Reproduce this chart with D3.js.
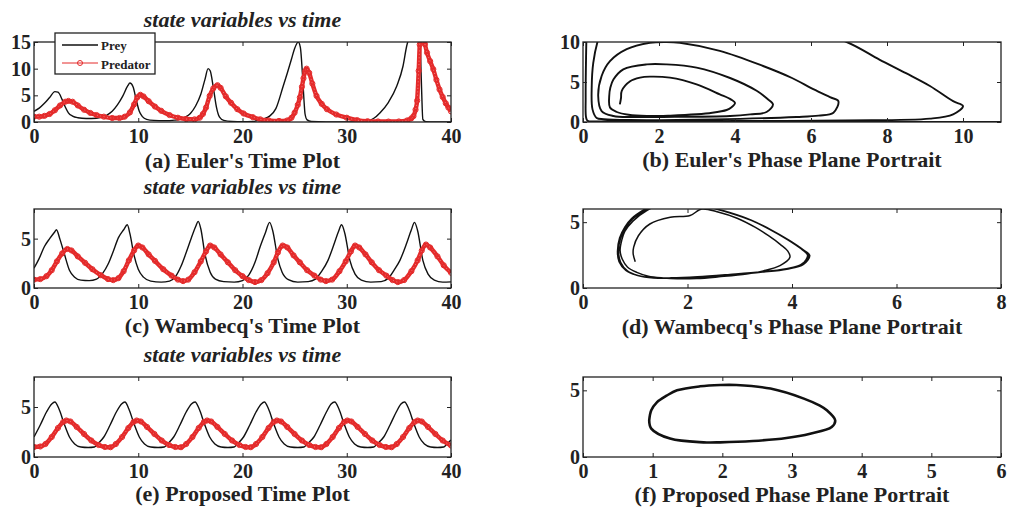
<!DOCTYPE html>
<html>
<head>
<meta charset="utf-8">
<script src="https://cdn.jsdelivr.net/npm/d3@7/dist/d3.min.js"></script>
<style>
	body { margin: 0; background: #fff; }
	svg { display: block; font-family: "Liberation Serif", "Times New Roman", serif; }
	.tick text { font-family: "Liberation Serif", "Times New Roman", serif; font-weight: bold; font-size: 20px; fill: #222; }
	.tick line { stroke: #222; }
</style>
</head>
<body>
<div id="chart"></div>
<script>
// ---------- DATA ----------
// time plots: [t, value]
const eulerPrey = [[0,2.0],[0.5,2.6],[1,3.5],[1.5,4.6],[2,5.7],[2.3,5.6],[2.7,4.2],[3,2.8],[3.3,1.7],[3.7,1.1],[4.2,0.8],[5,0.65],[6,0.7],[6.5,0.9],[7,1.3],[7.5,2.0],[8,3.2],[8.5,4.8],[9,6.8],[9.2,7.3],[9.5,6.6],[9.8,4.2],[10.1,2.0],[10.4,1.0],[10.8,0.5],[11.5,0.3],[12.5,0.25],[13.5,0.35],[14,0.5],[14.5,0.9],[15,1.6],[15.5,3.0],[16,5.2],[16.4,8.0],[16.7,10.0],[16.9,9.6],[17.2,6.5],[17.5,2.8],[17.8,0.9],[18.2,0.3],[19,0.1],[20,0.05],[21,0.1],[21.5,0.3],[22,0.55],[22.6,1.1],[23.2,2.5],[23.9,6.7],[24.3,9.2],[24.7,11.8],[25,13.8],[25.35,15.0],[25.55,14.0],[25.75,9.0],[25.9,4.0],[26,1.5],[26.2,0.4],[26.6,0.1],[28,0.02],[30,0.01],[31,0.05],[32,0.2],[32.6,0.7],[33.2,1.75],[34,3.7],[34.8,6.75],[35.4,10.5],[35.75,14.25],[36,16],[36.5,20],[37,17],[37.15,8],[37.3,0.5],[37.6,0.05],[38.5,0.0],[40,0.0]];
const eulerPredator = [[0,1.0],[0.5,1.0],[1,1.15],[1.5,1.5],[2,2.2],[2.5,3.1],[3,3.8],[3.3,3.95],[3.7,3.8],[4.2,3.1],[4.8,2.3],[5.4,1.7],[6,1.3],[6.7,1.0],[7.5,0.75],[8.2,0.75],[8.7,1.0],[9.2,1.8],[9.6,3.3],[9.9,4.6],[10.2,5.1],[10.5,4.8],[11,3.9],[11.6,2.9],[12.2,2.1],[13,1.3],[13.8,0.8],[14.6,0.55],[15.4,0.5],[15.9,0.8],[16.2,1.5],[16.5,2.7],[16.85,4.9],[17.2,6.3],[17.6,6.9],[17.9,6.4],[18.4,4.8],[18.9,3.6],[19.5,2.4],[20.1,1.6],[21,0.9],[21.7,0.5],[22.5,0.3],[23.5,0.2],[24.3,0.3],[24.7,0.8],[25,1.75],[25.3,3.2],[25.5,4.6],[25.7,6.6],[25.85,8.2],[26,9.5],[26.15,10.0],[26.4,9.2],[26.7,7.2],[27.1,4.9],[27.6,3.4],[28.1,2.4],[29,1.4],[30,0.8],[31,0.35],[32,0.15],[33,0.1],[34,0.08],[35,0.1],[35.8,0.3],[36.2,0.7],[36.4,1.1],[36.6,2.3],[36.75,4.0],[36.9,9.6],[37,14.5],[37.1,17],[37.3,16.5],[37.5,14.6],[37.7,13.0],[38,11.4],[38.3,9.9],[38.6,7.9],[38.9,6.1],[39.2,4.7],[39.5,3.5],[39.75,2.7],[40,2.0]];

const wambecqPrey = [[0,2.0],[0.5,3.0],[1,4.2],[1.5,5.0],[2,5.7],[2.15,5.9],[2.5,4.9],[2.9,3.5],[3.4,1.8],[3.9,1.1],[4.5,0.8],[5.3,0.75],[6,0.9],[6.6,1.5],[7.1,2.4],[7.6,3.7],[8.1,5.1],[8.6,5.9],[8.95,6.4],[9.2,5.5],[9.6,3.3],[10,1.9],[10.5,1.1],[11.2,0.7],[12.2,0.6],[13,0.7],[13.6,1.2],[14.1,2.2],[14.6,3.6],[15.1,5.1],[15.5,6.2],[15.75,6.75],[16,6.0],[16.4,3.4],[16.9,1.6],[17.4,0.9],[18.2,0.65],[19.2,0.6],[20,0.75],[20.6,1.3],[21.2,2.6],[21.7,4.2],[22.2,5.6],[22.6,6.65],[22.9,5.8],[23.4,2.9],[23.8,1.6],[24.4,0.85],[25.3,0.6],[26.3,0.65],[27,0.9],[27.6,1.7],[28.2,2.8],[28.7,4.2],[29.2,5.7],[29.5,6.4],[29.8,5.6],[30.3,2.8],[30.8,1.4],[31.4,0.8],[32.3,0.6],[33.3,0.65],[34,1.0],[34.6,1.9],[35.1,2.8],[35.7,4.4],[36.2,5.9],[36.5,6.65],[36.8,5.8],[37.3,2.8],[37.8,1.4],[38.4,0.8],[39.2,0.6],[40,0.62]];
const wambecqPredator = [[0,0.85],[0.6,0.9],[1.2,1.2],[1.7,1.8],[2.2,2.7],[2.7,3.5],[3.2,3.95],[3.6,3.8],[4.2,3.2],[4.9,2.55],[5.6,1.9],[6.4,1.3],[7.1,0.9],[7.6,0.8],[8.1,1.0],[8.6,1.7],[9.1,2.8],[9.6,3.8],[10,4.3],[10.4,4.1],[11,3.4],[11.6,2.75],[12.4,1.9],[13.2,1.25],[13.8,0.85],[14.3,0.7],[14.8,0.85],[15.4,1.6],[16,2.7],[16.5,3.7],[16.9,4.3],[17.3,4.1],[17.9,3.4],[18.6,2.6],[19.3,1.8],[20,1.2],[20.6,0.8],[21.2,0.6],[21.8,0.8],[22.4,1.5],[23,2.6],[23.4,3.6],[23.85,4.3],[24.3,4.1],[24.9,3.3],[25.5,2.6],[26.2,1.8],[26.9,1.25],[27.5,0.85],[28,0.7],[28.6,0.85],[29.3,1.7],[29.9,2.7],[30.4,3.7],[30.8,4.3],[31.2,4.1],[31.8,3.4],[32.4,2.6],[33.1,1.8],[33.8,1.25],[34.4,0.8],[34.9,0.6],[35.5,0.8],[36.2,1.7],[36.8,2.8],[37.2,3.8],[37.6,4.4],[38,4.1],[38.7,3.2],[39.3,2.3],[40,1.55]];

const proposedPrey = [[0,2.0],[0.6,3.2],[1.2,4.5],[1.7,5.3],[2,5.5],[2.4,4.8],[2.9,3.3],[3.4,2.0],[3.9,1.3],[4.5,1.0],[5.2,0.95],[5.8,1.0],[6.1,1.3],[6.7,2.0],[7.3,3.2],[7.9,4.5],[8.4,5.3],[8.72,5.5],[9.1,4.8],[9.6,3.3],[10.1,2.0],[10.6,1.3],[11.2,1.0],[11.9,0.95],[12.5,1.0],[12.8,1.3],[13.4,2.0],[14,3.2],[14.6,4.5],[15.1,5.3],[15.45,5.5],[15.85,4.8],[16.35,3.3],[16.85,2.0],[17.35,1.3],[17.95,1.0],[18.6,0.95],[19.2,1.0],[19.5,1.3],[20.1,2.0],[20.7,3.2],[21.3,4.5],[21.8,5.3],[22.1,5.5],[22.5,4.8],[23,3.3],[23.5,2.0],[24,1.3],[24.6,1.0],[25.3,0.95],[25.9,1.0],[26.2,1.3],[26.85,2.0],[27.45,3.2],[28.05,4.5],[28.5,5.3],[28.85,5.5],[29.25,4.8],[29.75,3.3],[30.25,2.0],[30.75,1.3],[31.35,1.0],[32,0.95],[32.6,1.0],[32.9,1.3],[33.55,2.0],[34.15,3.2],[34.75,4.5],[35.2,5.3],[35.55,5.5],[35.95,4.8],[36.45,3.3],[36.95,2.0],[37.45,1.3],[38.05,1.0],[38.7,0.95],[39.3,1.0],[39.6,1.3],[40,1.7]];
const proposedPredator = [[0,1.0],[0.6,1.05],[1.1,1.3],[1.7,2.0],[2.3,2.9],[2.8,3.5],[3.1,3.65],[3.5,3.55],[4.1,3.0],[4.8,2.3],[5.5,1.65],[6.2,1.2],[6.8,1.0],[7.35,0.98],[7.85,1.3],[8.45,2.0],[9.05,2.9],[9.55,3.5],[9.85,3.65],[10.25,3.55],[10.85,3.0],[11.55,2.3],[12.25,1.65],[12.95,1.2],[13.55,1.0],[14.1,0.98],[14.6,1.3],[15.2,2.0],[15.8,2.9],[16.3,3.5],[16.6,3.65],[17,3.55],[17.6,3.0],[18.3,2.3],[19,1.65],[19.7,1.2],[20.3,1.0],[20.8,0.98],[21.3,1.3],[21.9,2.0],[22.5,2.9],[23,3.5],[23.3,3.65],[23.7,3.55],[24.3,3.0],[25,2.3],[25.7,1.65],[26.4,1.2],[27,1.0],[27.55,0.98],[28.05,1.3],[28.65,2.0],[29.25,2.9],[29.75,3.5],[30.05,3.65],[30.45,3.55],[31.05,3.0],[31.75,2.3],[32.45,1.65],[33.15,1.2],[33.75,1.0],[34.3,0.98],[34.8,1.3],[35.4,2.0],[36,2.9],[36.5,3.5],[36.8,3.65],[37.2,3.55],[37.8,3.0],[38.5,2.3],[39.2,1.65],[40,1.15]];

// phase portraits: [predator, prey]
const eulerPhase = [[0.97,2.2],[1.0,3.0],[1.02,3.9],[1.24,5.1],[1.5,5.55],[1.76,5.67],[2.29,5.54],[2.99,4.7],[3.6,3.46],[3.9,2.8],[4.0,2.4],[3.9,1.8],[3.78,1.5],[3.4,1.15],[2.99,0.96],[2.3,0.8],[1.68,0.75],[1.2,0.9],[0.89,1.25],[0.71,1.8],[0.69,3.25],[0.72,4.3],[0.8,5.3],[1.06,6.58],[1.68,7.2],[2.2,7.2],[2.99,6.8],[3.87,5.5],[4.57,3.9],[4.85,2.9],[5.0,2.2],[4.83,1.25],[4.4,0.95],[3.87,0.75],[2.11,0.63],[1.3,0.62],[0.8,0.75],[0.49,1.37],[0.4,3.25],[0.49,5.75],[0.71,7.6],[1.15,9.1],[1.76,9.9],[2.2,10.0],[2.55,9.9],[3.6,8.9],[4.74,7.0],[5.5,5.5],[6.06,4.1],[6.5,3.1],[6.72,2.6],[6.59,1.17],[6.2,0.8],[5.62,0.63],[3.43,0.33],[1.24,0.25],[0.55,0.35],[0.36,0.5],[0.25,1.58],[0.23,4.5],[0.27,7.4],[0.38,10.0],[0.6,13],[1.5,15],[4.0,13.5],[5.5,12],[6.94,10.0],[7.8,7.8],[8.5,6.1],[9.13,4.5],[9.74,2.6],[10.0,2.0],[9.74,0.96],[9.13,0.42],[6.9,0.2],[4.0,0.12],[1.5,0.08],[0.4,0.08],[0.12,0.15],[0.08,0.6],[0.07,3],[0.08,8],[0.1,12],[0.15,16],[3,17],[12,12],[14,0.05],[11,0.02],[2.0,0.0]];
const wambecqPhase = [[1.0,2.0],[0.96,2.6],[0.97,3.1],[1.06,3.97],[1.28,4.86],[1.67,5.37],[2.05,5.5],[2.27,6.0],[2.6,5.75],[2.95,5.3],[3.3,4.6],[3.55,3.97],[3.78,3.3],[3.92,2.8],[3.96,2.33],[3.77,1.7],[3.45,1.3],[3.13,1.06],[2.6,0.85],[2.18,0.72],[1.8,0.7],[1.54,0.76],[1.25,0.9],[1.03,1.19],[0.85,1.6],[0.75,2.2],[0.71,2.84],[0.74,3.6],[0.8,4.3],[0.96,5.1],[1.22,5.87],[1.5,6.4],
	[2.0,6.6],[2.45,6.1],[2.8,5.72],[3.25,5.1],[3.6,4.4],[3.95,3.6],[4.2,2.9],[4.3,2.45],[4.17,1.78],[3.85,1.42],[3.4,1.2],[2.8,1.0],[2.2,0.82],[1.7,0.74],[1.35,0.76],[1.05,0.95],[0.85,1.3],[0.72,1.95],[0.68,2.8],[0.72,3.8],[0.82,4.6],[0.95,5.25],[1.2,5.9],[1.5,6.5],
	[2.0,6.8],[2.42,6.15],[2.78,5.76],[3.22,5.15],[3.58,4.45],[3.93,3.65],[4.19,2.95],[4.32,2.5],[4.2,1.8],[3.87,1.44],[3.42,1.22],[2.82,1.02],[2.2,0.84],[1.7,0.76],[1.33,0.78],[1.03,0.97],[0.83,1.33],[0.7,1.98],[0.67,2.8],[0.71,3.8],[0.81,4.62],[0.94,5.27],[1.18,5.95],[1.5,6.6],
	[2.0,6.75],[2.44,6.12],[2.8,5.74],[3.24,5.12],[3.6,4.42],[3.95,3.62],[4.21,2.92],[4.34,2.47],[4.22,1.79],[3.9,1.43],[3.44,1.21],[2.84,1.01],[2.22,0.83],[1.72,0.75],[1.34,0.77],[1.04,0.96],[0.84,1.31],[0.71,1.96],[0.68,2.8],[0.72,3.8],[0.82,4.6],[0.95,5.26],[1.19,5.92],[1.5,6.55],
	[2.0,6.7],[2.41,6.16],[2.77,5.77],[3.21,5.16],[3.57,4.46],[3.92,3.66],[4.18,2.96],[4.3,2.52],[4.19,1.81],[3.86,1.45],[3.41,1.23],[2.81,1.03],[2.19,0.85],[1.69,0.77],[1.32,0.79],[1.02,0.98],[0.82,1.34],[0.69,2.0],[0.66,2.8],[0.7,3.8],[0.8,4.63],[0.93,5.28],[1.17,5.96],[1.5,6.62],
	[2.0,6.8],[2.43,6.13],[2.79,5.75],[3.23,5.14],[3.59,4.44],[3.94,3.64],[4.2,2.94],[4.33,2.49],[4.21,1.8],[3.89,1.44],[3.43,1.22],[2.83,1.02],[2.3,0.88]];
const proposedPhase = [[0.95,2.75],[0.98,3.5],[1.06,4.1],[1.2,4.6],[1.35,5.0],[1.68,5.3],[1.97,5.4],[2.2,5.4],[2.69,5.13],[3.17,4.38],[3.4,3.85],[3.5,3.5],[3.62,2.75],[3.57,2.25],[3.26,1.75],[2.92,1.43],[2.44,1.2],[1.97,1.1],[1.73,1.1],[1.25,1.38],[0.98,2.13],[0.95,2.75]];

const timeTicks = [0, 10, 20, 30, 40];
const eulerTimeYTicks = [0, 5, 10, 15];
const smallYTicks = [0, 5];
const eulerPhaseXTicks = [0, 2, 4, 6, 8, 10];
const eulerPhaseYTicks = [0, 5, 10];
const wambecqPhaseXTicks = [0, 2, 4, 6, 8];
const proposedPhaseXTicks = [0, 1, 2, 3, 4, 5, 6];

const plotTitle = "state variables vs time";
const captions = ["(a) Euler's Time Plot", "(b) Euler's Phase Plane Portrait",
	"(c) Wambecq's Time Plot", "(d) Wambecq's Phase Plane Portrait",
	"(e) Proposed Time Plot", "(f) Proposed Phase Plane Portrait"];
const legendNames = ["Prey", "Predator"];

// ---------- LAYOUT ----------
const width = 1009, height = 508;
const leftCol = [34, 451], rightCol = [583, 1001];
const rows = [[42, 122], [209, 288], [377, 457]];
const red = "#e42a2a";
const fmt = d3.format("d");

const svg = d3.select("#chart").append("svg")
	.attr("width", width)
	.attr("height", height);
const defs = svg.append("defs");

let PlotPanel = class PlotPanel {

	constructor(id, xRange, yRange, xDomain, yDomain) {
		this.id = id;
		this.xRange = xRange;
		this.yRange = yRange;
		this.x = d3.scaleLinear().domain(xDomain).range(xRange);
		this.y = d3.scaleLinear().domain(yDomain).range([yRange[1], yRange[0]]);
		this.g = svg.append("g");

		defs.append("clipPath").attr("id", "clip" + id)
			.append("rect")
				.attr("x", xRange[0])
				.attr("y", yRange[0])
				.attr("width", xRange[1] - xRange[0])
				.attr("height", yRange[1] - yRange[0]);
		this.plot = this.g.append("g").attr("clip-path", "url(#clip" + id + ")");
	}

	drawAxes(xTicks, yTicks) {
		let [x0, x1] = this.xRange, [y0, y1] = this.yRange;
		// bottom + left with labels, ticks inward
		this.g.append("g")
			.attr("transform", "translate(0," + y1 + ")")
			.call(d3.axisBottom(this.x).tickValues(xTicks).tickFormat(fmt).tickSizeInner(-4).tickSizeOuter(0).tickPadding(7))
			.call(a => a.select(".domain").remove());
		this.g.append("g")
			.attr("transform", "translate(" + x0 + ",0)")
			.call(d3.axisLeft(this.y).tickValues(yTicks).tickFormat(fmt).tickSizeInner(-4).tickSizeOuter(0).tickPadding(3))
			.call(a => a.select(".domain").remove());
		// top + right, ticks only
		this.g.append("g")
			.attr("transform", "translate(0," + y0 + ")")
			.call(d3.axisTop(this.x).tickValues(xTicks).tickSizeInner(-4).tickSizeOuter(0).tickFormat(""))
			.call(a => a.select(".domain").remove());
		this.g.append("g")
			.attr("transform", "translate(" + x1 + ",0)")
			.call(d3.axisRight(this.y).tickValues(yTicks).tickSizeInner(-4).tickSizeOuter(0).tickFormat(""))
			.call(a => a.select(".domain").remove());
		// box
		this.g.append("rect")
			.attr("x", x0).attr("y", y0)
			.attr("width", x1 - x0).attr("height", y1 - y0)
			.attr("fill", "none")
			.attr("stroke", "#222")
			.attr("stroke-width", 1.3);
	}

	drawLabels(title, caption, captionY) {
		let cx = (this.xRange[0] + this.xRange[1]) / 2;
		if (title) {
			this.g.append("text")
				.attr("x", cx)
				.attr("y", this.yRange[0] - 15)
				.style("text-anchor", "middle")
				.style("font-weight", 700)
				.style("font-style", "italic")
				.style("font-size", "22px")
				.attr("fill", "#222")
				.text(title);
		}
		this.g.append("text")
			.attr("x", cx)
			.attr("y", captionY)
			.style("text-anchor", "middle")
			.style("font-weight", 700)
			.style("font-size", "22px")
			.attr("fill", "#222")
			.text(caption);
	}

	drawLine(data, color, w, curve) {
		let line = d3.line()
			.x(d => this.x(d[0]))
			.y(d => this.y(d[1]))
			.curve(curve || d3.curveLinear);
		this.plot.append("path")
			.datum(data)
			.attr("d", line)
			.attr("fill", "none")
			.attr("stroke", color)
			.attr("stroke-width", w)
			.attr("stroke-linejoin", "round");
	}

	drawPredator(data) {
		let line = d3.line()
			.x(d => this.x(d[0]))
			.y(d => this.y(d[1]))
			.curve(d3.curveMonotoneX);
		// dense marker band
		this.plot.append("path")
			.datum(data)
			.attr("d", line)
			.attr("fill", "none")
			.attr("stroke", red)
			.attr("stroke-width", 4.4)
			.attr("stroke-linejoin", "round");
		this.plot.append("path")
			.datum(data)
			.attr("d", line)
			.attr("fill", "none")
			.attr("stroke", "#f6a3a3")
			.attr("stroke-width", 1)
			.attr("stroke-dasharray", "1 2.4")
			.attr("opacity", 0.7);
		this.plot.selectAll("circle.dot")
			.data(data).enter().append("circle")
			.attr("class", "dot")
			.attr("cx", d => this.x(d[0]))
			.attr("cy", d => this.y(d[1]))
			.attr("r", 2.6)
			.attr("fill", "none")
			.attr("stroke", red)
			.attr("stroke-width", 1);
	}
}

// ---------- PANELS ----------
// (a)
let pa = new PlotPanel("a", leftCol, rows[0], [0, 40], [0, 15]);
pa.drawLine(eulerPrey, "#111", 1.4, d3.curveMonotoneX);
pa.drawPredator(eulerPredator);
pa.drawAxes(timeTicks, eulerTimeYTicks);
pa.drawLabels(plotTitle, captions[0], 168);

// legend
let lg = svg.append("g");
lg.append("rect")
	.attr("x", 55).attr("y", 33).attr("width", 100).attr("height", 41)
	.attr("fill", "#fff").attr("stroke", "#222").attr("stroke-width", 1.3);
lg.append("line")
	.attr("x1", 62).attr("x2", 98).attr("y1", 45).attr("y2", 45)
	.attr("stroke", "#111").attr("stroke-width", 1.4);
lg.append("line")
	.attr("x1", 62).attr("x2", 98).attr("y1", 63).attr("y2", 63)
	.attr("stroke", red).attr("stroke-width", 1);
lg.append("circle")
	.attr("cx", 80).attr("cy", 63).attr("r", 2.5)
	.attr("fill", "none").attr("stroke", red).attr("stroke-width", 1);
lg.selectAll("text.leg")
	.data(legendNames).enter().append("text")
	.attr("class", "leg")
	.attr("x", 101)
	.attr("y", (d, i) => i == 0 ? 50 : 69)
	.style("font-weight", 700)
	.style("font-size", "13px")
	.attr("fill", "#222")
	.text(d => d);

// (b)
let pb = new PlotPanel("b", rightCol, rows[0], [0, 11], [0, 10]);
pb.drawLine(eulerPhase, "#111", 1.9, d3.curveCatmullRom);
pb.drawAxes(eulerPhaseXTicks, eulerPhaseYTicks);
pb.drawLabels(null, captions[1], 167);

// (c)
let pc = new PlotPanel("c", leftCol, rows[1], [0, 40], [0, 8]);
pc.drawLine(wambecqPrey, "#111", 1.4, d3.curveMonotoneX);
pc.drawPredator(wambecqPredator);
pc.drawAxes(timeTicks, smallYTicks);
pc.drawLabels(plotTitle, captions[2], 333);

// (d)
let pd = new PlotPanel("d", rightCol, rows[1], [0, 8], [0, 6]);
pd.drawLine(wambecqPhase, "#111", 1.5, d3.curveCatmullRom);
pd.drawAxes(wambecqPhaseXTicks, smallYTicks);
pd.drawLabels(null, captions[3], 334);

// (e)
let pe = new PlotPanel("e", leftCol, rows[2], [0, 40], [0, 8]);
pe.drawLine(proposedPrey, "#111", 1.4, d3.curveMonotoneX);
pe.drawPredator(proposedPredator);
pe.drawAxes(timeTicks, smallYTicks);
pe.drawLabels(plotTitle, captions[4], 501);

// (f)
let pf = new PlotPanel("f", rightCol, rows[2], [0, 6], [0, 6]);
pf.drawLine(proposedPhase, "#111", 2.6, d3.curveCatmullRomClosed);
pf.drawAxes(proposedPhaseXTicks, smallYTicks);
pf.drawLabels(null, captions[5], 502);
</script>
</body>
</html>
